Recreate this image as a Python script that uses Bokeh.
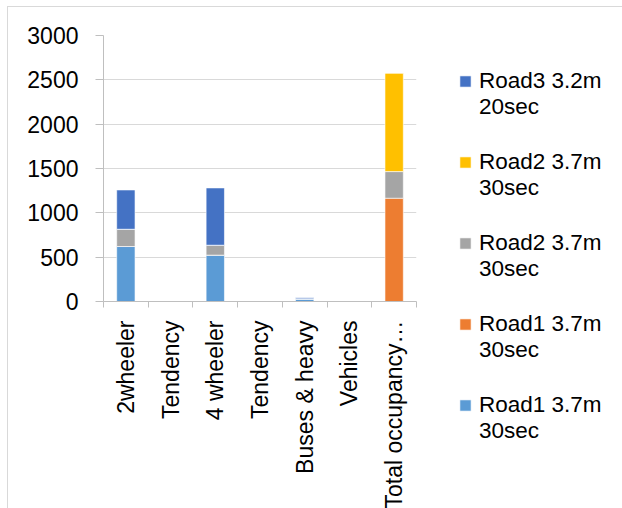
import math

from bokeh.plotting import figure
from bokeh.models import (ColumnDataSource, Range1d, LinearAxis, FixedTicker,
                          Legend, LegendItem)
from bokeh.embed import file_html
from bokeh.resources import INLINE

# Vehicle counts per category, one list per road series (stacked bottom to top)
categories = ["2wheeler", "Tendency", "4 wheeler", "Tendency",
              "Buses & heavy", "Vehicles", "Total occupancy\u2026"]
road1_a = [620, 0, 523, 0, 30, 0, 0]        # Road1 3.7m 30sec (blue)
road1_b = [0, 0, 0, 0, 0, 0, 1165]          # Road1 3.7m 30sec (orange)
road2_a = [195, 0, 112, 0, 0, 0, 300]       # Road2 3.7m 30sec (grey)
road2_b = [0, 0, 0, 0, 0, 0, 1112]          # Road2 3.7m 30sec (gold)
road3 = [443, 0, 646, 0, 12, 0, 0]          # Road3 3.2m 20sec
series_names = ["Road1 3.7m 30sec", "Road1 3.7m 30sec", "Road2 3.7m 30sec",
                "Road2 3.7m 30sec", "Road3 3.2m 20sec"]
y_ticks = [0, 500, 1000, 1500, 2000, 2500, 3000]

colors = ["#5B9BD5", "#ED7D31", "#A5A5A5", "#FFC000", "#4472C4"]
FONT = "Liberation Sans"
FS = "23px"
AXIS_GREY = "#BFBFBF"

# categories repeat ("Tendency"), so each one sits in its own unit slot on x
n = len(categories)
centers = [i + 0.5 for i in range(n)]
stack_cols = ["s1", "s2", "s3", "s4", "s5"]
source = ColumnDataSource(dict(x=centers, s1=road1_a, s2=road1_b, s3=road2_a,
                               s4=road2_b, s5=road3))

p = figure(x_range=Range1d(0, n), y_range=Range1d(0, 3000),
           frame_width=313, frame_height=266, output_backend="svg",
           toolbar_location=None, x_axis_location=None, y_axis_location=None,
           min_border_left=95, min_border_top=28, min_border_right=207,
           min_border_bottom=206)
p.styles = {"border-left": "1px solid #D9D9D9", "border-top": "1px solid #D9D9D9",
            "margin-left": "7px", "margin-top": "6px"}
p.outline_line_color = None
p.background_fill_color = "white"
p.border_fill_color = "white"

renderers = p.vbar_stack(stack_cols, x="x", width=0.41, color=colors,
                         line_color="white", line_width=0.6, source=source)

# y axis with outside ticks
yax = LinearAxis(ticker=FixedTicker(ticks=y_ticks), axis_line_color=AXIS_GREY,
                 major_tick_line_color=AXIS_GREY, major_tick_out=8, major_tick_in=0,
                 minor_tick_line_color=None, major_label_standoff=17,
                 major_label_text_font=FONT, major_label_text_font_size=FS,
                 major_label_text_color="black")
p.add_layout(yax, "left")
p.ygrid.ticker = FixedTicker(ticks=y_ticks)
p.ygrid.grid_line_color = "#D9D9D9"
p.xgrid.grid_line_color = None

# tick marks on the boundaries between categories
tick_axis = LinearAxis(ticker=FixedTicker(ticks=list(range(n + 1))),
                       axis_line_color=AXIS_GREY, major_tick_line_color=AXIS_GREY,
                       major_tick_out=6, major_tick_in=0, minor_tick_line_color=None,
                       major_label_overrides={i: "" for i in range(n + 1)},
                       major_label_text_font_size="1px", major_label_standoff=0)
p.add_layout(tick_axis, "below")

# category names, centred in each slot, reading upwards
cat_axis = LinearAxis(ticker=FixedTicker(ticks=centers),
                      axis_line_color=None, major_tick_line_color=None,
                      minor_tick_line_color=None, major_tick_out=0, major_tick_in=0,
                      major_label_orientation=math.pi / 2,
                      major_label_standoff=13,
                      major_label_text_font=FONT, major_label_text_font_size=FS,
                      major_label_text_color="black",
                      major_label_overrides=dict(zip(centers, categories)))
p.add_layout(cat_axis, "below")


def wrapped(name):
    # two-line entry; the leading empty line keeps the swatch beside the first line
    head, tail = name.rsplit(" ", 1)
    return f"\n{head}\n{tail}"


# legend lists the series top-down in reverse stacking order
items = [LegendItem(label=wrapped(series_names[i]), renderers=[renderers[i]])
         for i in reversed(range(len(renderers)))]
legend = Legend(items=items, location=(42, -143), border_line_color=None,
                background_fill_alpha=0, glyph_width=14, glyph_height=14,
                label_standoff=7, label_text_font=FONT, label_text_font_size="22.5px",
                label_text_color="black", spacing=3, padding=0, margin=0)
p.add_layout(legend, "right")

open("out.html", "w").write(file_html(p, INLINE))
